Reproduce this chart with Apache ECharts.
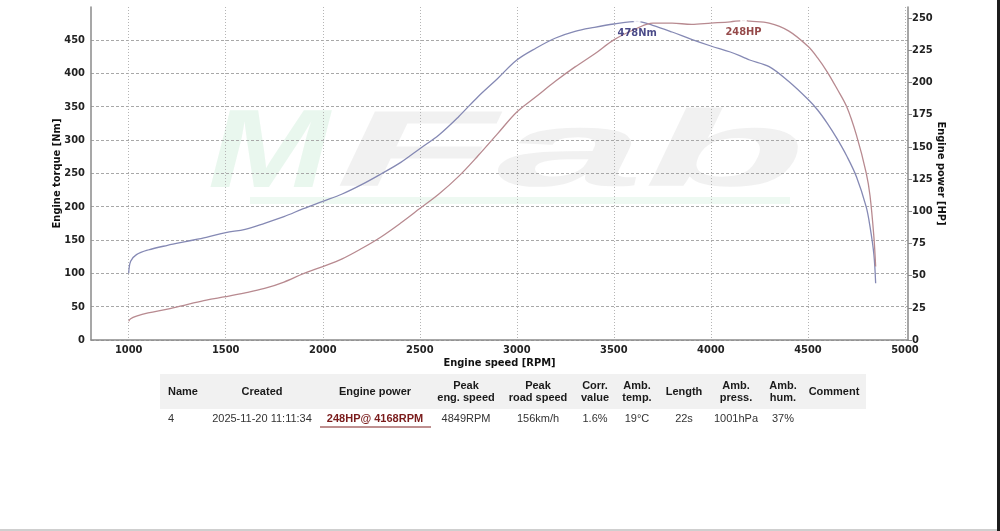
<!DOCTYPE html>
<html>
<head>
<meta charset="utf-8">
<script src="https://cdn.jsdelivr.net/npm/echarts@6/dist/echarts.min.js"></script>
<style>
html,body{margin:0;padding:0;background:#fff;}
#chart{width:1000px;height:531px;}
</style>
</head>
<body>
<div id="chart"></div>
<script>
// ---- data ----
const rpm = [1000,1010,1040,1100,1200,1300,1400,1500,1600,1700,1800,1900,2000,2100,2200,2300,2400,2500,2600,2700,2800,2900,3000,3100,3200,3300,3400,3500,3620,3700,3800,3900,4000,4100,4168,4200,4300,4400,4500,4550,4600,4650,4700,4750,4800,4820,4840,4849];
const torqueNm = [100,118,128,135,142,148,154,161,166,175,185,197,208,219,233,249,266,287,308,335,365,392,420,438,453,463,469,474,478,472,462,451,441,432,424,420,410,388,361,345,325,302,276,245,200,170,128,85];
const powerHP = [14.5,16.5,18.5,21,24,27.5,31,33.6,36.5,40,45,51.5,57,63,71,80,90.6,102,113.5,127,143,160,177,189,201,212,222,233,242,246,246,245,246,247,248,247.5,246,240,228,219,208,195,181,159,130,112,80,57];
const peakTorque = [3620, 478];
const peakPower = [4168, 248];
const peakTorqueLabel = '478Nm';
const peakPowerLabel = '248HP';
const xTicks = [1000,1500,2000,2500,3000,3500,4000,4500,5000];
const torqueTicks = [0,50,100,150,200,250,300,350,400,450];
const powerTicks = [0,25,50,75,100,125,150,175,200,225,250];
const tableHeaders = ['Name','Created','Engine power','Peak\neng. speed','Peak\nroad speed','Corr.\nvalue','Amb.\ntemp.','Length','Amb.\npress.','Amb.\nhum.','Comment'];
const tableRow = ['4','2025-11-20 11:11:34','248HP@ 4168RPM','4849RPM','156km/h','1.6%','19°C','22s','1001hPa','37%',''];

// ---- layout ----
const colX = [183,262,375,466,538,595,637,684,736,783,834];
const FONT = "'DejaVu Sans Condensed','DejaVu Sans',sans-serif";
const TFONT = "'Liberation Sans',Arial,sans-serif";

const torqueData = rpm.map((r,i)=>[r,torqueNm[i]]);
const powerData = rpm.map((r,i)=>[r,powerHP[i]]);

const graphics = [];
// watermark
graphics.push({type:'text', z:-10, left:208, top:100, style:{text:'M', font:"italic bold 112px 'Liberation Sans'", fill:'rgba(218,241,227,0.6)'}, scaleX:1.3});
graphics.push({type:'text', z:-10, left:335, top:102, style:{text:'Fab', font:"italic bold 108px 'Liberation Sans'", fill:'rgba(228,228,228,0.5)'}, scaleX:2.45});
graphics.push({type:'rect', z:-10, shape:{x:250,y:197,width:540,height:7}, style:{fill:'rgba(224,244,231,0.55)'}});
// table
graphics.push({type:'rect', shape:{x:160,y:374,width:706,height:35}, style:{fill:'#f1f1f1'}});
tableHeaders.forEach((h,i)=>{
  graphics.push({type:'text', x: i===0?168:colX[i], y:392, style:{text:h, font:"bold 11px "+TFONT, fill:'#1a1a1a', align: i===0?'left':'center', verticalAlign:'middle', lineHeight:12}});
});
tableRow.forEach((v,i)=>{
  if(!v) return;
  const isPow = i===2;
  graphics.push({type:'text', x: i===0?168:colX[i], y:419, style:{text:v, font:(isPow?"bold 11px ":"11px ")+TFONT, fill:isPow?'#7a1c1c':'#333', align: i===0?'left':'center', verticalAlign:'middle'}});
});
graphics.push({type:'line', shape:{x1:320,y1:427,x2:431,y2:427}, style:{stroke:'#a86a6a', lineWidth:1.5}});
// bottom edge / right bar
graphics.push({type:'rect', shape:{x:0,y:529,width:1000,height:2}, style:{fill:'#cfcfcf'}});
graphics.push({type:'rect', shape:{x:997,y:0,width:3,height:531}, style:{fill:'#1c1c1c'}});

const labelStyle = {color:'#222', fontFamily:FONT, fontWeight:'bold', fontSize:11, formatter:(v)=>String(v)};
const nameStyle = {color:'#111', fontFamily:FONT, fontWeight:'bold', fontSize:11};

const option = {
  animation:false,
  backgroundColor:'#fff',
  grid:{left:91,right:92,top:7,bottom:191,containLabel:false},
  xAxis:{
    type:'value', min:805.7, max:5015.7,
    name:'Engine speed [RPM]', nameLocation:'middle', nameGap:18, nameMoveOverlap:false,
    nameTextStyle:nameStyle,
    axisLine:{show:true, lineStyle:{color:'#8a8a8a', width:1.5}},
    axisTick:{show:false, customValues:xTicks},
    axisLabel:Object.assign({margin:5, customValues:xTicks}, labelStyle),
    splitLine:{show:true, customValues:xTicks, lineStyle:{color:'#b5b5b5', type:[1,2], width:1}}
  },
  yAxis:[{
    type:'value', min:0, max:499.5, position:'left',
    name:'Engine torque [Nm]', nameLocation:'middle', nameGap:28, nameMoveOverlap:false,
    nameTextStyle:nameStyle,
    axisLine:{show:true, lineStyle:{color:'#8a8a8a', width:1.5}},
    axisTick:{show:false, customValues:torqueTicks},
    axisLabel:Object.assign({margin:6, customValues:torqueTicks}, labelStyle),
    splitLine:{show:true, customValues:torqueTicks, lineStyle:{color:'#a8a8a8', type:[3,2], width:1}}
  },{
    type:'value', min:0, max:258.5, position:'right',
    name:'Engine power [HP]', nameLocation:'middle', nameGap:27, nameRotate:-90, nameMoveOverlap:false,
    nameTextStyle:nameStyle,
    axisLine:{show:true, lineStyle:{color:'#8a8a8a', width:1.5}},
    axisTick:{show:true, length:4, inside:false, customValues:powerTicks, lineStyle:{color:'#8a8a8a'}},
    axisLabel:Object.assign({margin:4, customValues:powerTicks}, labelStyle),
    splitLine:{show:false}
  }],
  graphic:graphics,
  series:[
    {type:'line', name:'torque', yAxisIndex:0, data:torqueData, smooth:0.35, showSymbol:false, lineStyle:{color:'#8589b4', width:1.3}, z:3},
    {type:'line', name:'power', yAxisIndex:1, data:powerData, smooth:0.35, showSymbol:false, lineStyle:{color:'#b88a90', width:1.3}, z:3},
    {type:'scatter', yAxisIndex:0, data:[peakTorque], symbol:'emptyCircle', symbolSize:5, itemStyle:{color:'#fff', borderColor:'#7a7a90', borderWidth:1}, z:5,
      label:{show:true, position:'bottom', distance:3, formatter:peakTorqueLabel, color:'#1d1d6a', fontFamily:FONT, fontWeight:'bold', fontSize:11}},
    {type:'scatter', yAxisIndex:1, data:[peakPower], symbol:'emptyCircle', symbolSize:5, itemStyle:{color:'#fff', borderColor:'#8a7a7a', borderWidth:1}, z:5,
      label:{show:true, position:'bottom', distance:3, formatter:peakPowerLabel, color:'#7a1c1c', fontFamily:FONT, fontWeight:'bold', fontSize:11}}
  ]
};
const chart = echarts.init(document.getElementById('chart'), null, {renderer:'canvas'});
chart.setOption(option);
</script>
</body>
</html>
